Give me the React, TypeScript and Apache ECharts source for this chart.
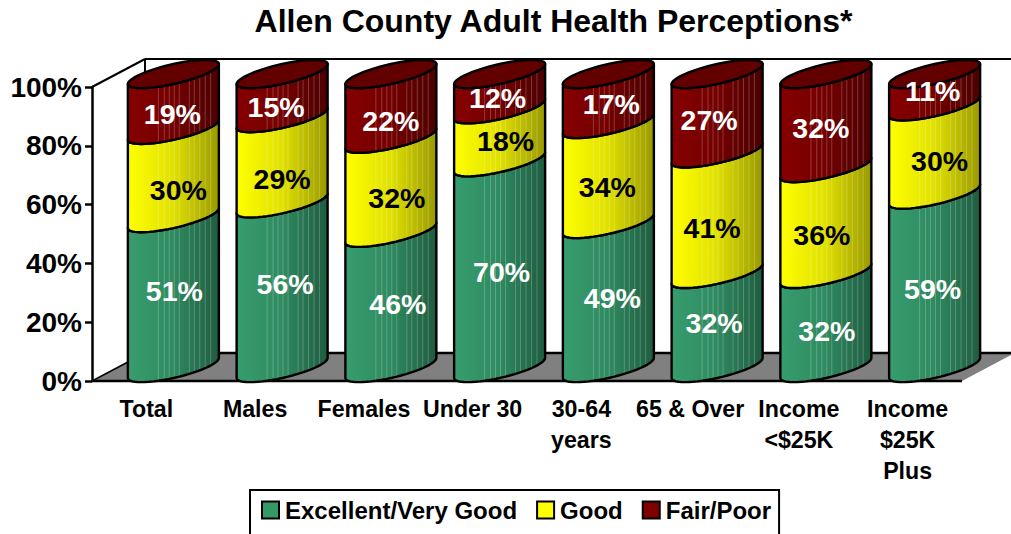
import React, { useEffect, useRef } from "react";
import * as echarts from "echarts";

const categories = ["Total", "Males", "Females", "Under 30", "30-64\nyears", "65 & Over", "Income\n<$25K", "Income\n$25K\nPlus"];
const excellent = [51, 56, 46, 70, 49, 32, 32, 59];
const good = [30, 29, 32, 18, 34, 41, 36, 30];
const fair = [19, 15, 22, 12, 17, 27, 32, 11];
const yTicks = [0, 20, 40, 60, 80, 100];

// hand-placed label offsets seen in the reference (px from the segment's centre)
const excellentNudge = [[1, -1], [3, -1], [7, 5], [2, 8], [4, 3], [-3, 3], [1, 11], [-2, 9]];
const goodNudge = [[5, 17], [0, 19], [6, 13], [6, 6], [-1, 14], [-5, 15], [-4, 15], [5, 12]];
const fairNudge = [[-1, 13], [-6, 12], [0, 16], [-2, 7], [3, 6], [-8, 7], [-5, 8], [-2, 2]];

const DEPTH_X = 53;
const DEPTH_Y = -28;
const BAR_W = 91;
const BAR_SHIFT_X = 0.5;
const BAR_SHIFT_Y = 1;
const TILT = 10;
const BULGE = 10;
const STRIPES = [-0.33, -0.2, -0.09, 0.02, 0.13, 0.35, 0.46, 0.58, 0.7, 0.82];
const FONT = "Liberation Sans";

const arc = (cx: number, cy: number, from: number, to: number, n = 28) => {
  const pts: number[][] = [];
  for (let i = 0; i <= n; i++) {
    const t = from + ((to - from) * i) / n;
    pts.push([cx + (BAR_W / 2) * Math.cos(t), cy - TILT * Math.cos(t) + BULGE * Math.sin(t)]);
  }
  return pts;
};

function segment(
  name: string,
  values: number[],
  bases: number[],
  nudge: number[][],
  colors: string[],
  base: string,
  textColor: string,
  withTop: boolean
) {
  return {
    type: "custom",
    name,
    itemStyle: { color: base, borderColor: "#000", borderWidth: 2 },
    silent: true,
    data: values.map((v, i) => [i, bases[i], bases[i] + v, v, nudge[i][0], nudge[i][1]]),
    renderItem: (_p: any, api: any) => {
      const i = api.value(0);
      const lo = api.coord([i, api.value(1)]);
      const hi = api.coord([i, api.value(2)]);
      const cx = lo[0] + DEPTH_X / 2 + BAR_SHIFT_X;
      const yLo = lo[1] + DEPTH_Y / 2 + BAR_SHIFT_Y;
      const yHi = hi[1] + DEPTH_Y / 2 + BAR_SHIFT_Y;
      const bottom = arc(cx, yLo, Math.PI, 0);
      const top = arc(cx, yHi, 0, Math.PI);
      const children: any[] = [
        {
          type: "polygon",
          shape: { points: [...bottom, ...top] },
          style: {
            fill: new echarts.graphic.LinearGradient(0, 0, 1, 0, [
              { offset: 0, color: colors[0] },
              { offset: 0.5, color: colors[1] },
              { offset: 1, color: colors[2] },
            ]),
            stroke: "none",
          },
        },
      ];
      STRIPES.forEach((f) => {
        const x = cx + (f * BAR_W) / 2;
        const off = -TILT * f + BULGE * Math.sqrt(1 - f * f);
        children.push({
          type: "line",
          shape: { x1: x, y1: yHi + off, x2: x, y2: yLo + off },
          style: { stroke: "rgba(255,255,255,0.22)", lineWidth: 1 },
        });
      });
      children.push({
        type: "polygon",
        shape: { points: [...bottom, ...top] },
        style: { fill: "none", stroke: "#000", lineWidth: 2.4, lineJoin: "round" },
      });
      if (withTop) {
        children.push({
          type: "polygon",
          shape: { points: arc(cx, yHi, 0, Math.PI * 2, 56) },
          style: { fill: "#620000", stroke: "#000", lineWidth: 2.4 },
        });
      }
      children.push({
        type: "text",
        x: cx + api.value(4),
        y: (yLo + yHi) / 2 + api.value(5) - BAR_SHIFT_Y,
        style: {
          text: api.value(3) + "%",
          fill: textColor,
          font: `bold 28.5px "${FONT}"`,
          align: "center",
          verticalAlign: "middle",
        },
      });
      return { type: "group", children };
    },
  };
}

const walls = {
  type: "custom",
  name: "walls",
  silent: true,
  data: [[0, 0]],
  renderItem: (p: any) => {
    const { x, y, width: w, height: h } = p.coordSys;
    const b = y + h;
    return {
      type: "group",
      children: [
        {
          type: "polygon",
          shape: { points: [[x, b], [x + DEPTH_X, b + DEPTH_Y], [x + w + DEPTH_X, b + DEPTH_Y], [x + w, b]] },
          style: { fill: "#808080", stroke: "none" },
        },
        { type: "line", shape: { x1: x + DEPTH_X, y1: b + DEPTH_Y, x2: x + w + DEPTH_X, y2: b + DEPTH_Y }, style: { stroke: "#000", lineWidth: 2.5 } },
        { type: "line", shape: { x1: x, y1: b, x2: x + w, y2: b }, style: { stroke: "#000", lineWidth: 2.5 } },
        { type: "line", shape: { x1: x, y1: b, x2: x + DEPTH_X, y2: b + DEPTH_Y }, style: { stroke: "#000", lineWidth: 1.5 } },
        { type: "line", shape: { x1: x, y1: y, x2: x + DEPTH_X, y2: y + DEPTH_Y }, style: { stroke: "#000", lineWidth: 2 } },
        { type: "line", shape: { x1: x + DEPTH_X, y1: y + DEPTH_Y, x2: x + w + DEPTH_X, y2: y + DEPTH_Y }, style: { stroke: "#000", lineWidth: 2 } },
        { type: "line", shape: { x1: x + DEPTH_X, y1: y + DEPTH_Y, x2: x + DEPTH_X, y2: b + DEPTH_Y }, style: { stroke: "#000", lineWidth: 2 } },
      ],
    };
  },
};

export default function App() {
  const ref = useRef<HTMLDivElement>(null);
  useEffect(() => {
    const chart = echarts.init(ref.current!, undefined, { renderer: "svg" });
    const goodBase = excellent.map((v) => v);
    const fairBase = excellent.map((v, i) => v + good[i]);
    chart.setOption({
      animation: false,
      backgroundColor: "#fff",
      title: {
        text: "Allen County Adult Health Perceptions*",
        left: 548.5,
        top: 0,
        textAlign: "center",
        textStyle: { fontFamily: FONT, fontWeight: "bold", fontSize: 32, color: "#000" },
      },
      grid: { left: 92, top: 87, width: 870, height: 294 },
      xAxis: {
        type: "category",
        data: categories,
        axisLine: { show: false },
        axisTick: { show: false },
        axisLabel: {
          interval: 0,
          margin: 12,
          color: "#000",
          fontFamily: FONT,
          fontWeight: "bold",
          fontSize: 23.2,
          lineHeight: 31,
          verticalAlign: "top",
        },
      },
      yAxis: {
        type: "value",
        min: 0,
        max: 100,
        interval: 20,
        axisLine: { show: true, lineStyle: { color: "#000", width: 2.5 } },
        axisTick: { show: true, length: 7, lineStyle: { color: "#000", width: 2.5 } },
        splitLine: { show: false },
        axisLabel: {
          margin: 10,
          color: "#000",
          fontFamily: FONT,
          fontWeight: "bold",
          fontSize: 28,
          customValues: yTicks,
          formatter: (v: number) => v + "%",
        },
      },
      legend: {
        left: 250,
        top: 490,
        padding: [8, 8, 20, 11],
        itemGap: 19,
        itemWidth: 17,
        itemHeight: 17,
        borderColor: "#000",
        borderWidth: 2,
        data: [
          { name: "Excellent/Very Good", icon: "rect" },
          { name: "Good", icon: "rect" },
          { name: "Fair/Poor", icon: "rect" },
        ],
        textStyle: { fontFamily: FONT, fontWeight: "bold", fontSize: 24, color: "#000", padding: [0, 0, 0, 1] },
      },
      series: [
        walls,
        segment("Excellent/Very Good", excellent, excellent.map(() => 0), excellentNudge, ["#379d6e", "#2f8a60", "#1f5c40"], "#339966", "#fff", false),
        segment("Good", good, goodBase, goodNudge, ["#ffff00", "#e0e000", "#999900"], "#ffff00", "#000", false),
        segment("Fair/Poor", fair, fairBase, fairNudge, ["#860000", "#730000", "#4c0000"], "#800000", "#fff", true),
      ],
    });
    return () => chart.dispose();
  }, []);
  return <div ref={ref} style={{ position: "fixed", left: 0, top: 0, width: 1011, height: 534 }} />;
}
